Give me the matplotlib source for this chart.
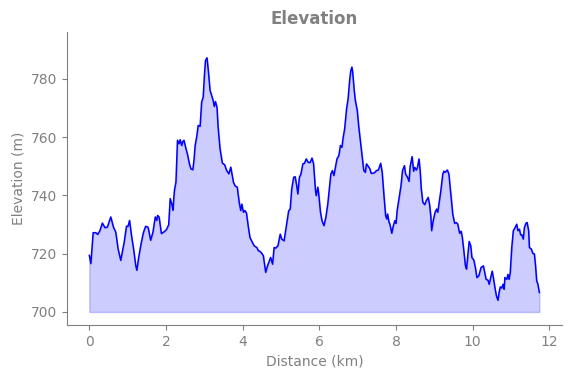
import numpy as np
import matplotlib.pyplot as plt

# elevation profile
distance_km = [
    0.00, 0.04, 0.10, 0.17, 0.22, 0.28, 0.34, 0.41, 0.47, 0.56, 0.63, 0.69, 0.75, 0.82,
    0.91, 0.97, 1.01, 1.05, 1.10, 1.16, 1.21, 1.24, 1.29, 1.35, 1.41, 1.47, 1.53, 1.55,
    1.60, 1.66, 1.72, 1.76, 1.78, 1.82, 1.88, 1.94, 2.01, 2.07, 2.11, 2.16, 2.18, 2.22,
    2.26, 2.30, 2.34, 2.37, 2.41, 2.44, 2.47, 2.51, 2.56, 2.61, 2.65, 2.70, 2.73, 2.76,
    2.80, 2.84, 2.89, 2.93, 2.97, 3.00, 3.03, 3.07, 3.10, 3.15, 3.19, 3.23, 3.26, 3.29,
    3.33, 3.36, 3.41, 3.47, 3.53, 3.58, 3.64, 3.69,
    3.76, 3.80, 3.86, 3.91, 3.95, 3.98, 4.02, 4.06, 4.10, 4.15, 4.19, 4.24, 4.30, 4.37,
    4.41, 4.45, 4.50, 4.54, 4.57, 4.60, 4.65, 4.70, 4.73, 4.78, 4.82, 4.86, 4.92, 4.98,
    5.02, 5.08, 5.14, 5.20, 5.24, 5.28, 5.33, 5.37, 5.41, 5.44, 5.48, 5.52, 5.57, 5.61,
    5.66, 5.71, 5.76, 5.81, 5.85, 5.90, 5.92, 5.96, 5.98, 6.03, 6.07, 6.12, 6.17, 6.22,
    6.26, 6.30, 6.34, 6.38, 6.42, 6.46, 6.51, 6.55, 6.59, 6.62, 6.66, 6.71, 6.75, 6.79,
    6.82, 6.85, 6.87, 6.91, 6.94, 6.99, 7.03, 7.07, 7.12, 7.16, 7.20, 7.23, 7.28, 7.32,
    7.35, 7.41, 7.45, 7.49, 7.54, 7.60, 7.64, 7.69, 7.73, 7.76, 7.78, 7.82, 7.84, 7.89,
    7.93, 7.97, 8.00, 8.03, 8.09,
    8.13, 8.17, 8.22, 8.25, 8.30, 8.34, 8.37, 8.42, 8.46, 8.49, 8.53, 8.56, 8.60, 8.63,
    8.66, 8.70, 8.75, 8.79, 8.84, 8.88, 8.91, 8.93, 8.97, 9.02, 9.06, 9.09, 9.14, 9.17,
    9.22, 9.25, 9.28, 9.34, 9.38, 9.41, 9.45, 9.48, 9.53, 9.57, 9.61, 9.66, 9.70, 9.73,
    9.77, 9.81, 9.84, 9.88, 9.91, 9.95, 9.98, 10.03, 10.07, 10.11, 10.16, 10.20, 10.22,
    10.28, 10.31, 10.35, 10.40, 10.43, 10.47, 10.51, 10.54, 10.58, 10.62, 10.66, 10.69,
    10.72, 10.76, 10.79, 10.82, 10.84, 10.89, 10.92, 10.95, 10.98, 11.02, 11.06, 11.10,
    11.15, 11.18, 11.22, 11.25, 11.28, 11.32, 11.35, 11.39, 11.42, 11.46, 11.48, 11.53,
    11.57, 11.61, 11.64, 11.67, 11.70, 11.74,
]
elevation_m = [
    719.4, 716.6, 727.2, 727.2, 726.6, 728.0, 730.5, 728.9, 729.1, 732.6, 729.1, 727.4, 721.7, 717.7,
    724.0, 729.4, 729.4, 731.4, 726.3, 721.1, 716.0, 714.3, 718.9, 723.4, 727.2, 729.4, 729.1, 728.0,
    724.6, 727.4, 732.6, 731.4, 733.1, 732.6, 726.9, 727.4, 728.2, 729.9, 738.9, 736.6, 734.9, 741.7,
    744.6, 758.9, 757.7, 759.1, 757.1, 758.5, 758.9, 756.6, 754.1, 750.9, 749.1, 748.8, 752.0, 757.1,
    760.0, 764.0, 763.7, 772.0, 773.7, 780.6, 786.3, 787.2, 783.4, 776.0, 774.3, 772.6, 770.5, 772.2,
    770.3, 763.4, 756.0, 751.1, 750.5, 748.6, 747.4, 749.7,
    744.5, 743.3, 742.8, 737.6, 734.8, 737.0, 734.2, 734.8, 733.9, 729.0, 725.6, 724.2, 722.7, 722.1,
    721.0, 720.8, 720.1, 719.3, 716.4, 713.6, 715.9, 717.6, 718.7, 716.4, 722.1, 721.9, 722.7, 726.7,
    725.0, 724.4, 729.6, 734.7, 735.3, 742.2, 746.2, 746.4, 743.3, 740.5, 746.2, 747.3, 750.8, 751.0,
    752.5, 751.3, 751.3, 752.8, 750.8, 741.6, 739.9, 742.8, 741.0, 734.2, 731.3, 729.6, 732.5, 737.0,
    742.2, 747.3, 748.5, 746.8, 749.6, 752.5, 753.7, 757.1, 756.5, 759.7, 762.8, 769.7, 773.1, 779.4,
    782.8, 784.0, 782.3, 776.0, 772.5, 769.1, 763.4, 758.8, 753.1, 748.5, 747.9, 750.8, 749.9, 749.1,
    747.6, 747.6, 747.9, 748.5, 748.7, 751.0, 747.9, 739.3, 733.0, 731.9, 733.6, 730.7, 730.2, 727.0,
    729.6, 731.3, 730.4, 734.8, 739.9,
    743.3, 748.5, 750.2, 747.3, 746.2, 744.8, 749.9, 753.3, 748.3, 749.6, 748.7, 749.6, 752.5, 748.5,
    742.2, 737.6, 736.8, 738.2, 739.3, 736.5, 732.5, 727.9, 731.3, 734.2, 735.3, 734.2, 738.8, 741.6,
    747.3, 748.3, 747.9, 748.7, 747.3, 743.3, 738.2, 733.6, 730.4, 730.7, 730.2, 727.0, 727.7, 725.6,
    721.0, 715.9, 714.7, 720.4, 724.2, 722.7, 718.7, 717.8, 715.3, 711.8, 712.4, 714.3, 715.3,
    715.8, 713.9, 711.2, 710.9, 709.5, 711.8, 714.0, 711.8, 708.4, 705.5, 704.0, 706.7,
    708.6, 708.2, 709.5, 707.8, 711.8, 711.2, 712.9, 711.2, 713.5, 722.1, 727.9, 728.8,
    730.1, 727.9, 728.4, 726.5, 726.5, 725.0, 729.0, 730.4, 730.7, 727.9, 722.1, 721.6,
    720.1, 719.9, 715.9, 710.7, 709.6, 706.7,
]
base_elevation = 700

grey = '#808080'
fig = plt.figure(figsize=(5.71, 3.78), dpi=100)
ax = fig.add_axes([0.117, 0.140, 0.867, 0.775])

ax.plot(distance_km, elevation_m, color='blue', lw=1.1)
ax.fill_between(distance_km, elevation_m, base_elevation, color='blue', alpha=0.2)

ax.set_ylim(695.5, 796)
ax.set_xticks([0, 2, 4, 6, 8, 10, 12])
ax.set_yticks([700, 720, 740, 760, 780])
ax.set_title('Elevation', color=grey, fontsize=12, fontweight='bold')
ax.set_xlabel('Distance (km)', color=grey)
ax.set_ylabel('Elevation (m)', color=grey)
ax.tick_params(colors=grey)
for s in ['top', 'right']:
    ax.spines[s].set_visible(False)
for s in ['left', 'bottom']:
    ax.spines[s].set_color(grey)

fig.savefig('out.png', dpi=100)
